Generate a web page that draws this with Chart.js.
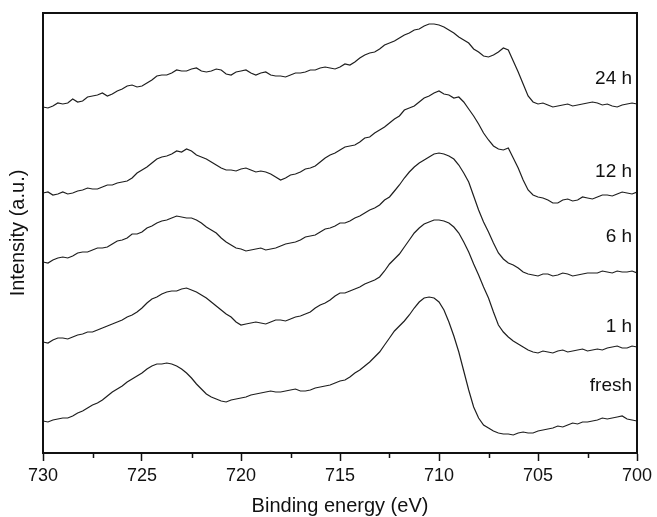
<!DOCTYPE html>
<html>
<head>
<meta charset="utf-8">
<script src="https://cdn.jsdelivr.net/npm/chart.js@4.4.0/dist/chart.umd.min.js"></script>
<style>
  html, body { margin: 0; padding: 0; background: #fff; }
  canvas { display: block; }
</style>
</head>
<body>
<canvas id="myChart" width="657" height="517"></canvas>
<script>
// binding energy axis (eV), read every 0.25 eV
let energy = [730, 729.75, 729.5, 729.25, 729, 728.75, 728.5, 728.25, 728, 727.75,
  727.5, 727.25, 727, 726.75, 726.5, 726.25, 726, 725.75, 725.5, 725.25,
  725, 724.75, 724.5, 724.25, 724, 723.75, 723.5, 723.25, 723, 722.75,
  722.5, 722.25, 722, 721.75, 721.5, 721.25, 721, 720.75, 720.5, 720.25,
  720, 719.75, 719.5, 719.25, 719, 718.75, 718.5, 718.25, 718, 717.75,
  717.5, 717.25, 717, 716.75, 716.5, 716.25, 716, 715.75, 715.5, 715.25,
  715, 714.75, 714.5, 714.25, 714, 713.75, 713.5, 713.25, 713, 712.75,
  712.5, 712.25, 712, 711.75, 711.5, 711.25, 711, 710.75, 710.5, 710.25,
  710, 709.75, 709.5, 709.25, 709, 708.75, 708.5, 708.25, 708, 707.75,
  707.5, 707.25, 707, 706.75, 706.5, 706.25, 706, 705.75, 705.5, 705.25,
  705, 704.75, 704.5, 704.25, 704, 703.75, 703.5, 703.25, 703, 702.75,
  702.5, 702.25, 702, 701.75, 701.5, 701.25, 701, 700.75, 700.5, 700.25,
  700];

// intensities (a.u., stacking offsets included)
let h24 = [346, 345, 347, 350, 349, 350, 354, 351, 352, 356,
  357, 358, 360, 357, 359, 362, 364, 367, 368, 366,
  367, 370, 373, 377, 378, 378, 380, 383, 382, 382,
  384, 385, 382, 381, 382, 384, 383, 379, 378, 381,
  382, 383, 380, 378, 380, 381, 378, 377, 377, 376,
  378, 380, 380, 381, 383, 383, 385, 386, 385, 384,
  386, 389, 388, 391, 395, 398, 400, 401, 404, 408,
  410, 412, 415, 418, 420, 423, 424, 427, 429, 429,
  428, 426, 423, 420, 416, 413, 410, 404, 401, 397,
  396, 398, 401, 405, 403, 392, 381, 369, 357, 351,
  349, 350, 348, 346, 347, 348, 349, 347, 348, 349,
  350, 351, 350, 348, 349, 347, 346, 348, 349, 350,
  349];
let h12 = [260, 261, 258, 259, 261, 259, 260, 262, 263, 265,
  264, 264, 266, 268, 268, 270, 271, 272, 275, 280,
  283, 286, 290, 294, 296, 297, 299, 302, 301, 304,
  302, 298, 296, 294, 291, 288, 285, 283, 283, 282,
  284, 285, 283, 281, 282, 281, 279, 276, 273, 275,
  278, 279, 281, 284, 285, 287, 291, 295, 298, 300,
  303, 306, 307, 308, 311, 315, 316, 320, 323, 326,
  330, 334, 337, 343, 345, 347, 351, 355, 357, 360,
  362, 359, 358, 355, 356, 351, 344, 337, 329, 320,
  313, 307, 304, 303, 305, 295, 285, 273, 263, 258,
  256, 255, 253, 250, 250, 253, 254, 252, 253, 256,
  255, 254, 256, 258, 258, 257, 259, 261, 260, 259,
  261];
let h6 = [191, 190, 193, 195, 196, 195, 197, 200, 201, 201,
  203, 205, 205, 206, 209, 212, 213, 215, 219, 219,
  221, 225, 227, 230, 232, 233, 235, 237, 236, 235,
  235, 233, 230, 226, 223, 220, 215, 211, 208, 205,
  204, 202, 203, 204, 205, 203, 204, 205, 207, 209,
  210, 211, 213, 216, 217, 218, 221, 224, 225, 227,
  230, 230, 232, 235, 237, 240, 243, 245, 248, 253,
  256, 262, 268, 275, 281, 286, 290, 293, 296, 299,
  300, 299, 297, 294, 288, 280, 271, 257, 243, 231,
  221, 210, 200, 194, 190, 188, 185, 181, 179, 178,
  177, 179, 179, 177, 178, 180, 179, 177, 178, 179,
  180, 180, 180, 182, 181, 180, 182, 181, 181, 182,
  180];
let h1 = [111, 110, 113, 115, 115, 114, 116, 118, 119, 121,
  121, 123, 125, 127, 129, 131, 133, 136, 138, 141,
  145, 150, 154, 156, 159, 161, 162, 162, 164, 165,
  163, 161, 158, 155, 151, 147, 143, 139, 136, 131,
  128, 129, 130, 131, 130, 129, 131, 133, 133, 132,
  134, 136, 137, 139, 141, 145, 148, 150, 153, 157,
  160, 160, 162, 164, 166, 169, 171, 173, 176, 182,
  189, 194, 199, 206, 213, 220, 225, 229, 231, 233,
  233, 232, 230, 226, 220, 211, 201, 189, 178, 166,
  155, 141, 128, 121, 116, 112, 109, 106, 103, 101,
  100, 102, 101, 100, 102, 103, 101, 102, 103, 104,
  102, 103, 104, 103, 105, 106, 107, 105, 105, 107,
  106];
let fresh = [32, 31, 33, 34, 35, 35, 37, 40, 42, 45,
  48, 50, 53, 57, 61, 64, 67, 71, 74, 77,
  80, 84, 87, 89, 89, 90, 89, 87, 84, 80,
  75, 69, 64, 59, 56, 54, 52, 51, 53, 54,
  55, 56, 58, 59, 60, 61, 62, 61, 61, 62,
  63, 64, 62, 62, 63, 65, 66, 67, 68, 70,
  72, 73, 76, 80, 83, 87, 91, 96, 101, 108,
  115, 122, 127, 132, 138, 145, 151, 155, 156, 155,
  151, 143, 131, 117, 101, 82, 63, 46, 35, 28,
  25, 22, 20, 19, 19, 18, 20, 21, 20, 20,
  22, 23, 24, 25, 27, 26, 28, 30, 29, 31,
  31, 32, 33, 35, 34, 35, 36, 37, 34, 33,
  32];

let seriesNames = ['24 h', '12 h', '6 h', '1 h', 'fresh'];
let seriesData = [h24, h12, h6, h1, fresh];

// where the curve names sit (energy, intensity of text centre)
let nameX = 700.25;
let nameY = [376, 283, 218, 128, 69];

let majorTicks = [730, 725, 720, 715, 710, 705, 700];
let minorTicks = [727.5, 722.5, 717.5, 712.5, 707.5, 702.5];

let fontFamily = "'Liberation Sans', Arial, Helvetica, sans-serif";
let ink = '#111';

const datasets = seriesData.map((arr, k) => ({
  label: seriesNames[k],
  data: energy.map((e, i) => ({ x: e, y: arr[i] })),
  borderColor: '#1e1e1e',
  borderWidth: 1.2,
  pointRadius: 0,
  tension: 0,
  fill: false
}));

// frame, minor ticks and curve names
const extras = {
  id: 'extras',
  afterDraw(chart) {
    const ctx = chart.ctx;
    const a = chart.chartArea;
    const xs = chart.scales.x;
    const ys = chart.scales.y;
    ctx.save();
    ctx.strokeStyle = ink;
    ctx.lineWidth = 2;
    ctx.strokeRect(a.left, a.top, a.right - a.left, a.bottom - a.top);

    ctx.lineWidth = 1.5;
    ctx.beginPath();
    minorTicks.forEach(v => {
      const px = Math.round(xs.getPixelForValue(v)) + 0.5;
      ctx.moveTo(px, a.bottom);
      ctx.lineTo(px, a.bottom + 5);
    });
    ctx.stroke();

    ctx.fillStyle = ink;
    ctx.font = '19px ' + fontFamily;
    ctx.textAlign = 'right';
    ctx.textBaseline = 'alphabetic';
    seriesNames.forEach((n, i) => {
      ctx.fillText(n, xs.getPixelForValue(nameX), ys.getPixelForValue(nameY[i]) + 7);
    });
    ctx.restore();
  }
};

const config = {
  type: 'line',
  data: { datasets },
  options: {
    responsive: false,
    animation: false,
    devicePixelRatio: 1,
    layout: { padding: { top: 13, right: 20, left: 0, bottom: 0 } },
    plugins: { legend: { display: false }, tooltip: { enabled: false } },
    scales: {
      x: {
        type: 'linear',
        min: 700,
        max: 730,
        reverse: true,
        afterBuildTicks: s => { s.ticks = majorTicks.map(v => ({ value: v })); },
        afterFit: s => { s.height = 64; },
        ticks: {
          color: ink,
          font: { family: fontFamily, size: 18 },
          padding: 4,
          maxRotation: 0
        },
        grid: {
          display: true,
          drawOnChartArea: false,
          drawTicks: true,
          tickLength: 8,
          tickWidth: 1.5,
          tickColor: ink
        },
        border: { display: true, color: ink, width: 2 },
        title: {
          display: true,
          text: 'Binding energy (eV)',
          color: ink,
          font: { family: fontFamily, size: 20, lineHeight: 1 },
          padding: { top: 0, bottom: 1 }
        }
      },
      y: {
        min: 0,
        max: 440,
        afterFit: s => { s.width = 43; },
        ticks: { display: false },
        grid: { display: false },
        border: { display: true, color: ink, width: 2 },
        title: {
          display: true,
          text: 'Intensity (a.u.)',
          color: ink,
          font: { family: fontFamily, size: 20, lineHeight: 1 },
          padding: { top: 8, bottom: 0 }
        }
      }
    }
  },
  plugins: [extras]
};

const myChart = new Chart(document.getElementById('myChart'), config);
</script>
</body>
</html>
